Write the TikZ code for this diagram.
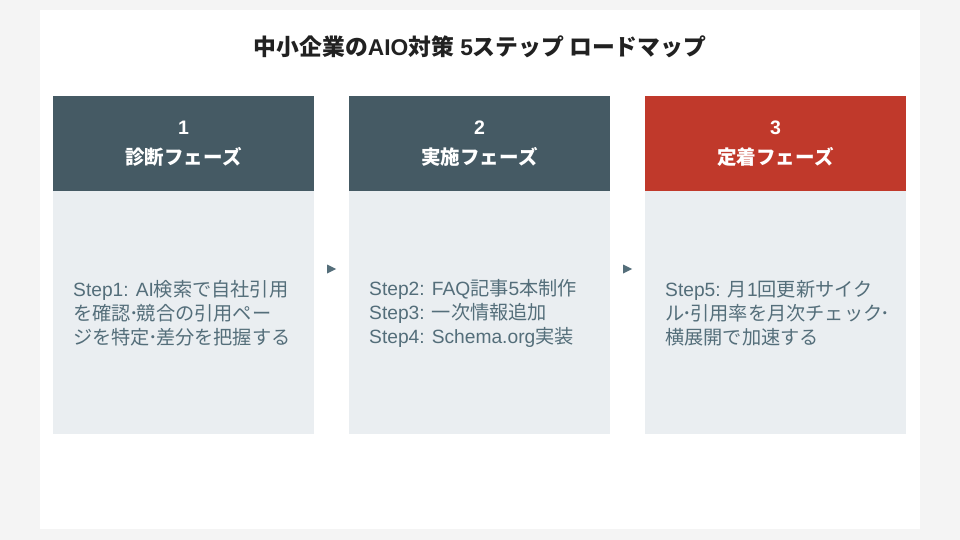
\documentclass[tikz,border=0pt]{standalone}
\usepackage{fontspec}
\setmainfont{Liberation Sans}
\newfontfamily\jp{Noto Sans CJK JP}
\newcommand{\ndot}{\makebox[0.32em][c]{･}}
\definecolor{pagebg}{HTML}{F4F4F4}
\definecolor{hdrdark}{HTML}{455A64}
\definecolor{hdrred}{HTML}{C0392B}
\definecolor{bodybg}{HTML}{EAEEF1}
\definecolor{bodytxt}{HTML}{546E7A}
\definecolor{titletxt}{HTML}{212121}
\begin{document}
\begin{tikzpicture}[x=1pt,y=-1pt,
  hdrbox/.style={rectangle,draw=none,minimum width=261pt,minimum height=95pt,inner sep=0pt,
     text=white,align=center,font=\bfseries\fontsize{19.5}{30}\selectfont},
  bodybox/.style={rectangle,fill=bodybg,draw=none,minimum width=261pt,minimum height=243pt,inner sep=0pt},
  bodytext/.style={anchor=west,align=left,text=bodytxt,inner sep=0pt,font=\fontsize{19.2}{24}\selectfont},
  tri/.style={fill=bodytxt}]
\useasboundingbox (0,0) rectangle (960,540);
\fill[pagebg] (0,0) rectangle (960,540);
\fill[white] (40,10) rectangle (920,529);
\node[font=\bfseries\fontsize{22.8}{26}\selectfont,text=titletxt] (title) at (480,47)
  {{\jp 中小企業の}AIO{\jp 対策} 5{\jp ステップ ロードマップ}};
% column 1
\node[hdrbox,fill=hdrdark] (h1) at (183.5,143.5) {1\\{\jp 診断フェーズ}};
\node[bodybox,anchor=north] (b1) at (h1.south) {};
\node[bodytext] (t1) at (73,313) {Step1: AI{\jp 検索で自社引用}\\{\jp を確認\ndot 競合の引用ペー}\\{\jp ジを特定\ndot 差分を把握する}};
% column 2
\node[hdrbox,fill=hdrdark] (h2) at (479.5,143.5) {2\\{\jp 実施フェーズ}};
\node[bodybox,anchor=north] (b2) at (h2.south) {};
\node[bodytext] (t2) at (369,313) {Step2: FAQ{\jp 記事}5{\jp 本制作}\\Step3: {\jp 一次情報追加}\\Step4: Schema.org{\jp 実装}};
% column 3
\node[hdrbox,fill=hdrred] (h3) at (775.5,143.5) {3\\{\jp 定着フェーズ}};
\node[bodybox,anchor=north] (b3) at (h3.south) {};
\node[bodytext] (t3) at (665,313) {Step5: {\jp 月}1{\jp 回更新サイク}\\{\jp ル\ndot 引用率を月次チェック\ndot}\\{\jp 横展開で加速する}};
% arrows
\coordinate (a1) at (331.5,269);
\coordinate (a2) at (627.5,269);
\fill[tri] (a1) ++(-4.5,-4.5) -- ++(9,4.5) -- ++(-9,4.5) -- cycle;
\fill[tri] (a2) ++(-4.5,-4.5) -- ++(9,4.5) -- ++(-9,4.5) -- cycle;
\end{tikzpicture}
\end{document}
